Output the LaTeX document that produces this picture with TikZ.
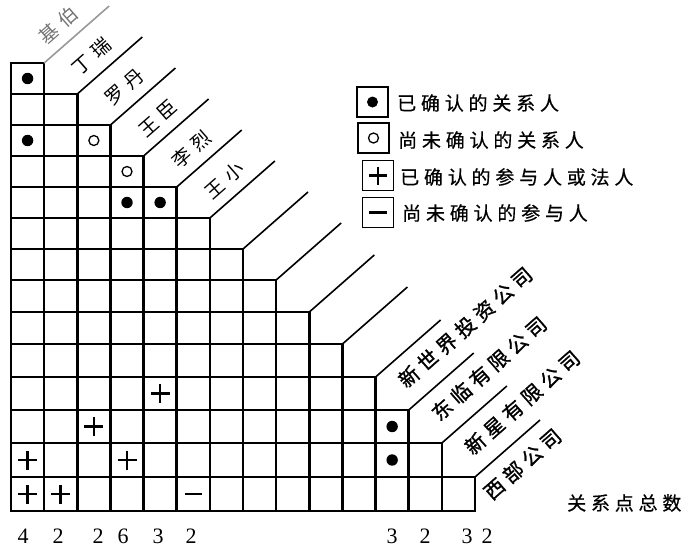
\documentclass[tikz,border=0pt]{standalone}
\usepackage{fontspec}
\usetikzlibrary{calc}
\newfontfamily\cjk{Noto Sans CJK SC}
\newfontfamily\cjkm[FakeBold=0.5]{Noto Sans CJK SC}
\newfontfamily\cjkb[FakeBold=1.2]{Noto Sans CJK SC}
\newfontfamily\numfont{Liberation Serif}
\newdimen\lsk
\def\ls#1{\lsB#1\relax}
\def\lsB#1{#1\lsA}
\def\lsA#1{\ifx\relax#1\else\kern\lsk#1\expandafter\lsA\fi}
\def\RY{{63,94,125,156,187,218,249,280,312,344,377,410,443,477,511}}
\newcommand\lbl[6]{%
  \path ($(#3)+({(#4)*0.752-(#5)*0.659},{-(#4)*0.659-(#5)*0.752})$) node[#1,anchor=west] (#2) {\ls{#6}};}
\newcommand\plusat[2]{\draw[crs] (#1) ++(-#2,0) -- ++(2*#2,0) (#1) ++(0,-#2) -- ++(0,2*#2);}
\newcommand\minusat[2]{\draw[crs] (#1) ++(-#2,0) -- ++(2*#2,0);}
\tikzset{
  gridline/.style={line width=2.6pt, line cap=rect},
  diag/.style={line width=1.6pt},
  pname/.style={rotate=41.25, inner sep=0pt, font={\cjk\fontsize{19}{21}\selectfont\lsk=6pt\relax}},
  cname/.style={rotate=41.25, inner sep=0pt, font={\cjkb\fontsize{20}{22}\selectfont\lsk=5pt\relax}},
  legbox/.style={draw, line width=1.9pt, minimum width=31pt, minimum height=30pt, inner sep=0pt},
  legtext/.style={anchor=west, inner sep=0pt, font={\cjkm\fontsize{19}{21}\selectfont\lsk=4.8pt\relax}},
  num/.style={inner sep=0pt, font={\numfont\fontsize{22}{22}\selectfont}},
  ring/.style={line width=1.3pt},
  crs/.style={line width=2.6pt},
}
\begin{document}
\begin{tikzpicture}[x=1pt,y=-1pt]
\useasboundingbox (0,0) rectangle (692,547);
% grid horizontal lines
\foreach \r in {0,...,14}{
  \pgfmathsetmacro\yy{\RY[\r]}
  \pgfmathsetmacro\xe{11+min(\r+1,14)*33.143}
  \draw[gridline] (11,\yy) -- (\xe,\yy);
}
% grid vertical lines
\foreach \c in {0,...,14}{
  \pgfmathsetmacro\xx{11+\c*33.143}
  \pgfmathtruncatemacro\ci{max(\c-1,0)}
  \pgfmathsetmacro\yt{\RY[\ci]}
  \draw[gridline] (\xx,\yt) -- (\xx,511);
}
% corners and diagonal lines
\foreach \r in {1,...,14}{
  \pgfmathtruncatemacro\rA{\r-1}
  \pgfmathsetmacro\yy{\RY[\rA]}
  \pgfmathsetmacro\xx{11+\r*33.143}
  \coordinate (k\r) at (\xx,\yy);
}
\draw[diag, black!40] (k1) -- ++(65,-57);
\foreach \r in {2,...,14}{
  \draw[diag] (k\r) -- ++(65,-57);
}
% cell centres
\foreach \r in {1,...,14}{
  \pgfmathtruncatemacro\rA{\r-1}
  \pgfmathsetmacro\ya{\RY[\rA]}
  \pgfmathsetmacro\yb{\RY[\r]}
  \pgfmathsetmacro\cy{(\ya+\yb)/2}
  \foreach \c in {1,...,\r}{
    \pgfmathsetmacro\cx{11+(\c-0.5)*33.143}
    \coordinate (c\r-\c) at (\cx,\cy);
  }
}
% marks
\fill (c1-1) circle (5.7);
\fill (c3-1) circle (5.7);
\draw[ring] (c3-3) circle (5);
\draw[ring] (c4-4) circle (5);
\fill (c5-4) circle (5.7);
\fill (c5-5) circle (5.7);
\fill (c12-12) circle (5.7);
\fill (c13-12) circle (5.7);
\plusat{c11-5}{9.5}
\plusat{c12-3}{9.5}
\plusat{c13-1}{9.5}
\plusat{c13-4}{9.5}
\plusat{c14-1}{9.5}
\plusat{c14-2}{9.5}
\minusat{c14-6}{8.5}
% person labels
\lbl{pname,text=black!55}{n1}{k1}{13.5}{19}{基伯}
\lbl{pname}{n2}{k2}{13.5}{19}{丁瑞}
\lbl{pname}{n3}{k3}{13.5}{19}{罗丹}
\lbl{pname}{n4}{k4}{13.5}{19}{王臣}
\lbl{pname}{n5}{k5}{13.5}{19}{李烈}
\lbl{pname}{n6}{k6}{13.5}{19}{王小}
% company labels
\lbl{cname}{m1}{k12}{12}{25}{新世界投资公司}
\lbl{cname}{m2}{k13}{12}{25}{东临有限公司}
\lbl{cname}{m3}{k14}{12}{25}{新星有限公司}
\lbl{cname}{m4}{k14}{-3.4}{-21.5}{西部公司}
% legend
\node[legbox] (lb1) at (372.5,102) {};
\node[legbox] (lb2) at (373.5,138) {};
\node[legbox] (lb3) at (378,175.5) {};
\node[legbox] (lb4) at (378,212.5) {};
\fill (lb1.center) circle (5.5);
\draw[ring] (lb2.center) circle (5);
\plusat{lb3.center}{9}
\minusat{lb4.center}{9}
\node[legtext] (lt1) at (397,103) {\ls{已确认的关系人}};
\node[legtext] (lt2) at (398,140) {\ls{尚未确认的关系人}};
\node[legtext] (lt3) at (400,177) {\ls{已确认的参与人或法人}};
\node[legtext] (lt4) at (402,213) {\ls{尚未确认的参与人}};
% totals
\node[legtext] (tot) at (567,503) {\ls{关系点总数}};
\node[num] (s1) at (23,536) {4};
\node[num] (s2) at (58,536) {2};
\node[num] (s3) at (98,536) {2};
\node[num] (s4) at (123,536) {6};
\node[num] (s5) at (158,536) {3};
\node[num] (s6) at (191,536) {2};
\node[num] (s7) at (392,536) {3};
\node[num] (s8) at (425,536) {2};
\node[num] (s9) at (467,536) {3};
\node[num] (s10) at (487,536) {2};
\end{tikzpicture}
\end{document}
